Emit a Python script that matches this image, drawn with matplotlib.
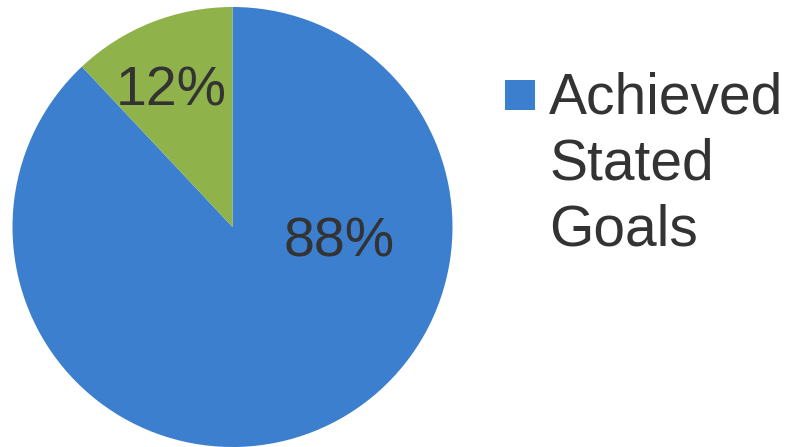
import matplotlib.pyplot as plt
import matplotlib.patches as mpatches

# Dados do gráfico
labels = ["Achieved\nStated\nGoals", "Not Achieved"]
values = [88, 12]
pct_labels = ["88%", "12%"]
colors = ["#3C7FCE", "#8FB24B"]

text_color = "#333333"
plt.rcParams["font.family"] = ["Liberation Sans", "DejaVu Sans"]

W, H = 795, 447
fig = plt.figure(figsize=(W / 100, H / 100), dpi=100)
ax = fig.add_axes([12.5 / W, 0 / H, 440 / W, 440 / H])

wedges, _ = ax.pie(
    values,
    colors=colors,
    startangle=90,
    counterclock=False,
    radius=1.0,
    wedgeprops=dict(linewidth=0),
)
ax.set_xlim(-1, 1)
ax.set_ylim(-1, 1)
ax.set_aspect("equal")
ax.axis("off")

# Rótulos de porcentagem
label_pos = [(0.485, -0.07), (-0.28, 0.615)]
for (x, y), txt in zip(label_pos, pct_labels):
    ax.text(x, y, txt, ha="center", va="center", fontsize=40, color=text_color)

# Legenda (só a primeira fatia aparece), desenhada à mão para alinhar o
# quadrado com a primeira linha do texto
fig.patches.append(mpatches.Rectangle(
    (505 / W, 1 - 110 / H), 30 / W, 30 / H,
    transform=fig.transFigure, facecolor=colors[0], edgecolor="none",
))
fig.text(549 / W, 1 - 71 / H, labels[0], ha="left", va="top",
         fontsize=41, color=text_color, linespacing=1.29)

fig.savefig("out.png", dpi=100)
